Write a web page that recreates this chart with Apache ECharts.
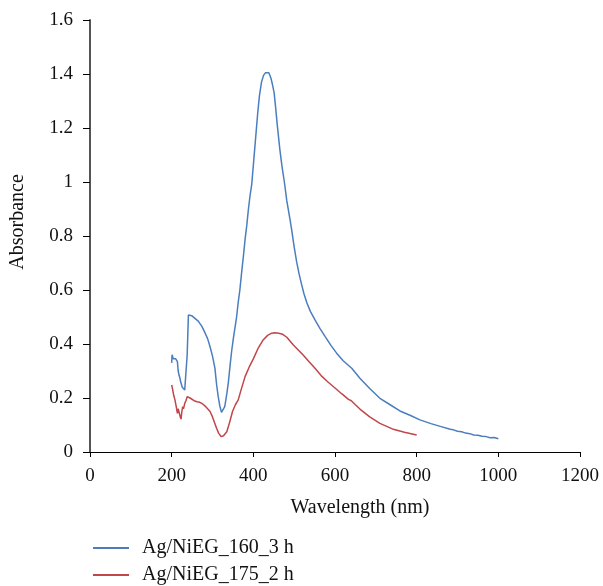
<!DOCTYPE html>
<html><head><meta charset="utf-8">
<script src="https://cdn.jsdelivr.net/npm/echarts@6/dist/echarts.min.js"></script>
<style>html,body{margin:0;padding:0;background:#fff}#c{width:603px;height:586px}</style>
</head><body><div id="c"></div>
<script>
var seriesNames = ["Ag/NiEG_160_3 h", "Ag/NiEG_175_2 h"];
var xTicks = [0, 200, 400, 600, 800, 1000, 1200];
var yTicks = [0, 0.2, 0.4, 0.6, 0.8, 1, 1.2, 1.4, 1.6];
var blueWl = [200,201,202,204,206,208,210,212,214,216,218,220,222,224,226,229,232,235,238,241,245,249,257,265,274,282,288,294,300,306,310,314,318,322,326,330,335,339,343,347,351,355,359,363,367,371,376,380,384,388,392,396,401,406,411,415,420,425,430,434,438,443,447,451,455,459,465,470,476,482,490,494,500,506,512,518,524,531,540,551,563,576,590,604,620,641,661,685,710,735,759,785,808,835,860,882,890,900,910,920,930,940,950,960,970,980,990,1000];
var blueAbs = [0.33,0.36,0.365,0.345,0.35,0.34,0.345,0.34,0.335,0.30,0.285,0.275,0.26,0.255,0.24,0.235,0.23,0.235,0.36,0.507,0.512,0.505,0.495,0.485,0.465,0.44,0.42,0.39,0.355,0.31,0.25,0.205,0.17,0.147,0.15,0.168,0.215,0.26,0.32,0.375,0.42,0.46,0.5,0.555,0.6,0.66,0.73,0.79,0.84,0.9,0.95,0.99,1.08,1.17,1.26,1.32,1.37,1.395,1.405,1.41,1.405,1.385,1.36,1.33,1.27,1.205,1.12,1.06,1.0,0.93,0.86,0.822,0.76,0.705,0.66,0.622,0.586,0.553,0.52,0.489,0.458,0.427,0.395,0.366,0.338,0.31,0.273,0.235,0.199,0.175,0.152,0.135,0.119,0.105,0.094,0.084,0.082,0.077,0.075,0.07,0.068,0.063,0.062,0.058,0.057,0.053,0.054,0.049];
var redWl = [200,202,205,208,211,214,216,219,221,223,225,227,229,232,235,238,241,245,249,255,262,269,276,282,288,294,300,306,310,315,321,327,335,342,349,356,363,370,380,390,400,412,424,435,445,453,462,472,482,498,510,522,536,551,566,582,600,617,633,636,640,650,661,685,710,743,770,800];
var redAbs = [0.248,0.235,0.21,0.193,0.17,0.143,0.16,0.156,0.13,0.122,0.15,0.168,0.16,0.18,0.19,0.205,0.21,0.2,0.196,0.19,0.186,0.184,0.178,0.17,0.16,0.15,0.13,0.105,0.088,0.07,0.057,0.06,0.075,0.11,0.15,0.175,0.193,0.23,0.28,0.315,0.345,0.385,0.415,0.432,0.44,0.442,0.44,0.436,0.425,0.396,0.378,0.359,0.335,0.31,0.283,0.26,0.237,0.215,0.195,0.198,0.19,0.175,0.159,0.13,0.106,0.084,0.073,0.063];

function pairs(xs, ys){ return xs.map(function(x,i){ return [x, ys[i]]; }); }
var serif = '"Liberation Serif", "DejaVu Serif", serif';
var FS = 19;
var colors = ['#4a7ebf', '#c0464a'];
var chart = echarts.init(document.getElementById('c'), null, {renderer:'canvas'});
function legendFor(i, top){
  return {
    orient: 'horizontal', left: 93, top: top, itemWidth: 36, itemHeight: 2, itemGap: 0,
    icon: 'rect', padding: 0,
    textStyle: {fontFamily: serif, fontSize: 20, color: '#111', padding: [0,0,0,8]},
    data: [seriesNames[i]]
  };
}
chart.setOption({
  animation: false,
  backgroundColor: '#fff',
  grid: {left: 90, right: 23, top: 20, bottom: 134, containLabel: false},
  xAxis: {
    type: 'value', min: xTicks[0], max: xTicks[xTicks.length-1], interval: 200,
    axisLine: {onZero: false, lineStyle: {color: '#000', width: 1}},
    axisTick: {show: true, length: 5, lineStyle: {color: '#000'}},
    axisLabel: {color: '#111', fontFamily: serif, fontSize: FS, margin: 15,
      formatter: function(v){ return String(v); }},
    splitLine: {show: false}
  },
  yAxis: {
    type: 'value', min: yTicks[0], max: yTicks[yTicks.length-1], interval: 0.2,
    axisLine: {show: true, lineStyle: {color: '#555', width: 2}},
    axisTick: {show: true, length: 7, lineStyle: {color: '#000'}},
    axisLabel: {color: '#111', fontFamily: serif, fontSize: FS, margin: 17,
      formatter: function(v){ return String(Math.round(v*10)/10); }},
    splitLine: {show: false}
  },
  legend: [legendFor(0, 538), legendFor(1, 565)],
  graphic: [
    {type: 'text', x: 360, y: 508, style: {text: 'Wavelength (nm)', font: '20px ' + serif, fill: '#111', align: 'center', verticalAlign: 'middle'}},
    {type: 'text', x: 18, y: 222, rotation: Math.PI/2, style: {text: 'Absorbance', font: '20px ' + serif, fill: '#111', align: 'center', verticalAlign: 'middle'}}
  ],
  series: [
    {name: seriesNames[0], type: 'line', showSymbol: false, data: pairs(blueWl, blueAbs),
      lineStyle: {color: colors[0], width: 1.5}, itemStyle: {color: colors[0]}},
    {name: seriesNames[1], type: 'line', showSymbol: false, data: pairs(redWl, redAbs),
      lineStyle: {color: colors[1], width: 1.5}, itemStyle: {color: colors[1]}}
  ]
});
</script></body></html>
